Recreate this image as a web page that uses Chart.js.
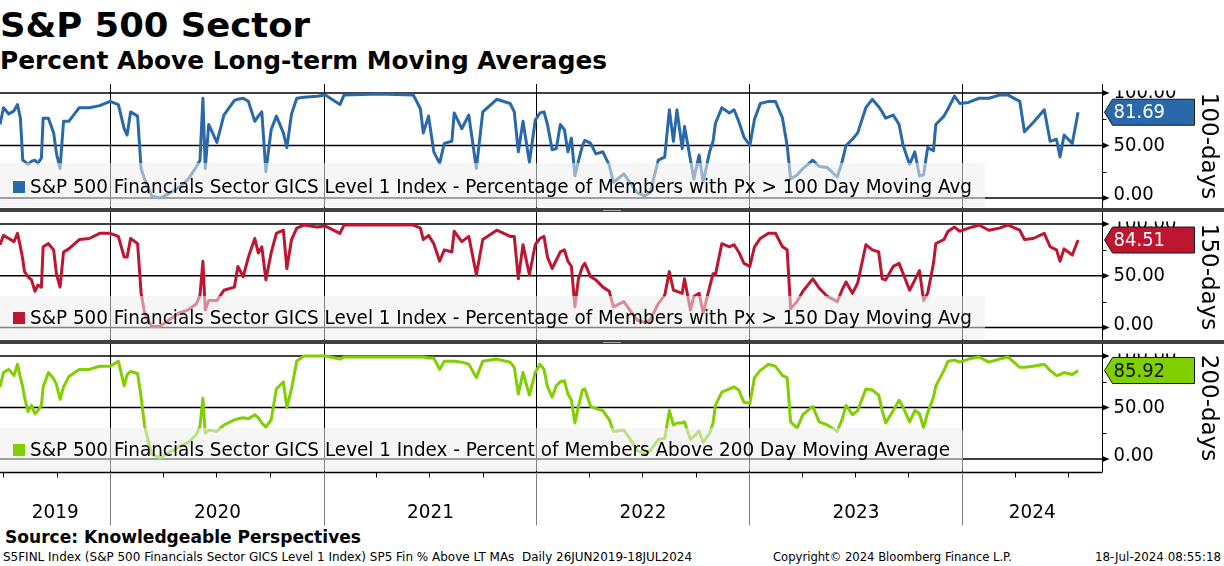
<!DOCTYPE html>
<html>
<head>
<meta charset="utf-8">
<title>S&amp;P 500 Sector</title>
<script src="https://cdn.jsdelivr.net/npm/chart.js@4.4.1/dist/chart.umd.min.js"></script>
<style>
  html, body { margin: 0; padding: 0; background: #fff; }
  #page { position: relative; width: 1224px; height: 566px; overflow: hidden; background: #fff; }
  .txt { position: absolute; left: 0; top: 0; white-space: pre; color: #000;
         font-family: "DejaVu Sans", sans-serif; line-height: 1; transform-origin: 0 0; }
  canvas { position: absolute; left: 0; }
  .sep { position: absolute; left: 0; width: 1224px; height: 4px; background: #404040; }
  .grip { position: absolute; left: 603px; width: 18px; height: 1px; background: #a8a8a8; }
</style>
</head>
<body>
<div id="page">
  <div class="txt" data-x="0" data-base="37" data-size="34" data-w="310" style="font-weight:bold">S&amp;P 500 Sector</div>
  <div class="txt" data-x="0" data-base="69" data-size="24" data-w="607" style="font-weight:bold">Percent Above Long-term Moving Averages</div>
  <canvas id="p1"></canvas>
  <canvas id="p2"></canvas>
  <canvas id="p3"></canvas>
  <div class="sep" style="top:208px"></div>
  <div class="grip" style="top:210px"></div>
  <div class="sep" style="top:340px"></div>
  <div class="grip" style="top:342px"></div>
  <div class="txt" data-x="5" data-base="543" data-size="17" data-w="356" style="font-weight:bold">Source: Knowledgeable Perspectives</div>
  <div class="txt" data-x="3" data-base="561" data-size="12" data-w="689">S5FINL Index (S&amp;P 500 Financials Sector GICS Level 1 Index) SP5 Fin % Above LT MAs  Daily 26JUN2019-18JUL2024</div>
  <div class="txt" data-x="773" data-base="561" data-size="12" data-w="239">Copyright© 2024 Bloomberg Finance L.P.</div>
  <div class="txt" data-x="1095" data-base="561" data-size="12" data-w="126">18-Jul-2024 08:55:18</div>
</div>
<script>
// sample dates
const dates = [
  '2019-06-26','2019-07-02','2019-07-11','2019-07-20','2019-07-26','2019-07-31','2019-08-04','2019-08-07','2019-08-13','2019-08-19',
  '2019-08-25','2019-08-30','2019-09-05','2019-09-08','2019-09-17','2019-09-26','2019-10-01','2019-10-07','2019-10-13','2019-10-22',
  '2019-11-09','2019-11-26','2019-12-14','2020-01-01','2020-01-15','2020-01-25','2020-01-30','2020-02-05','2020-02-17','2020-02-23',
  '2020-02-29','2020-03-12','2020-03-26','2020-04-10','2020-04-28','2020-05-14','2020-05-28','2020-06-03','2020-06-08','2020-06-12',
  '2020-06-18','2020-07-02','2020-07-14','2020-08-01','2020-08-07','2020-08-16','2020-08-25','2020-09-05','2020-09-11','2020-09-17',
  '2020-09-24','2020-10-03','2020-10-12','2020-10-24','2020-10-30','2020-11-07','2020-11-16','2020-11-28','2020-12-21','2021-01-04',
  '2021-01-29','2021-02-05','2021-04-06','2021-06-04','2021-06-16','2021-06-21','2021-06-30','2021-07-09','2021-07-19','2021-07-27',
  '2021-08-09','2021-08-13','2021-08-26','2021-09-07','2021-09-20','2021-10-01','2021-10-25','2021-11-17','2021-11-24','2021-12-01',
  '2021-12-09','2021-12-20','2021-12-30',
  '2022-01-07','2022-01-14','2022-01-20','2022-01-28','2022-02-04','2022-02-11','2022-02-18','2022-02-24','2022-03-02','2022-03-08',
  '2022-03-14','2022-03-21','2022-03-25','2022-04-04','2022-04-13','2022-04-25','2022-05-06','2022-05-13','2022-05-31','2022-06-10',
  '2022-06-23','2022-07-05','2022-07-15','2022-07-29','2022-08-09','2022-08-17','2022-08-24','2022-08-30','2022-09-08','2022-09-12',
  '2022-09-22','2022-09-28','2022-10-07','2022-10-14','2022-10-25','2022-10-31','2022-11-04','2022-11-15','2022-11-28','2022-12-06',
  '2022-12-14','2022-12-23','2023-01-02','2023-01-10','2023-01-20','2023-02-03','2023-02-15','2023-02-27','2023-03-07','2023-03-13',
  '2023-03-24','2023-04-03','2023-04-20','2023-05-01','2023-05-15','2023-06-01','2023-06-09','2023-06-16','2023-06-27','2023-07-06',
  '2023-07-20','2023-07-31','2023-08-11','2023-08-17','2023-08-23','2023-09-05','2023-09-15','2023-09-22','2023-10-03','2023-10-12',
  '2023-10-20','2023-10-27','2023-11-03','2023-11-13','2023-11-17','2023-12-01','2023-12-08','2023-12-19','2023-12-28','2024-01-12',
  '2024-01-30','2024-02-16','2024-03-05','2024-03-20','2024-04-09','2024-04-17','2024-05-02','2024-05-21','2024-05-31','2024-06-11',
  '2024-06-17','2024-06-24','2024-07-08','2024-07-18'
];

// % of members above 100 day MA
const pct100 = [
  70,86,80,83,89,76,36,35,32,35, 36,33,38,76,76,62,42,28,73,73,
  86,86,88,92,89,66,60,82,78,28, 18,2,0,4,10,18,30,36,95,28,
  70,53,79,93,94,95,92,73,78,82, 25,65,78,62,48,80,95,96,97,98,
  89,98,99,98,85,62,78,44,33,52, 54,81,66,79,28,82,94,90,82,44,
  73,34,74,
  81,82,70,46,47,70,65,44,57,21, 35,50,55,52,42,44,31,15,23,15,
  5,2,5,36,39,84,54,84,47,68, 37,18,41,15,44,54,71,86,81,84,
  73,58,50,75,90,92,92,76,50,18, 22,28,36,30,29,20,34,50,56,62,
  86,94,87,82,76,79,70,50,32,44, 21,22,48,45,70,78,85,97,90,91,
  95,95,98,98,92,63,72,84,54,56, 39,60,52,81.69
];

// % of members above 150 day MA
const pct150 = [
  80,89,86,83,91,78,66,54,49,46, 35,41,39,78,81,75,51,39,73,76,
  85,86,91,91,88,68,68,86,81,33, 14,1,1,7,14,17,23,31,64,17,
  26,26,36,39,59,49,68,86,72,78, 46,72,91,94,57,85,96,99,97,98,
  91,99,99,99,96,85,89,81,64,75, 73,93,83,88,51,85,94,88,88,47,
  80,51,80,
  86,88,68,57,65,73,75,64,59,20, 47,59,62,49,46,39,35,20,25,17,
  7,5,7,23,31,54,36,35,33,47, 17,30,33,14,39,52,51,81,78,80,
  73,62,59,78,86,91,91,78,75,18, 25,35,47,38,30,25,36,44,33,43,
  80,75,73,47,46,59,62,52,36,46, 55,26,33,62,81,85,93,97,93,96,
  99,94,96,99,94,85,86,91,78,75, 64,76,70,84.51
];

// % of members above 200 day MA
const pct200 = [
  70,84,87,81,92,79,70,60,46,52, 44,47,52,70,84,78,72,58,70,80,
  87,87,90,90,95,71,82,85,83,60, 32,5,1,6,12,16,24,32,59,25,
  28,27,33,38,39,40,39,43,40,35, 31,38,68,75,50,68,95,100,100,100,
  97,99,99,99,99,99,98,98,87,95, 95,95,94,92,79,95,97,94,89,63,
  84,62,84,
  92,87,70,60,71,75,76,63,57,35, 51,67,68,51,49,47,38,27,28,20,
  8,6,8,19,20,47,33,35,35,36, 19,22,27,16,25,35,52,65,68,70,
  67,55,54,79,86,92,90,81,79,36, 30,43,51,36,33,27,38,52,43,47,
  68,67,62,47,35,47,57,50,36,47, 44,30,45,60,71,86,95,96,94,97,
  99,94,97,99,89,89,90,92,86,81, 82,84,82,85.92
];

const yTicks = [0, 50, 100];
const yMinor = [25, 75];
const yTickLabels = ['0.00', '50.00', '100.00'];
const yearStarts = ['2020-01-01','2021-01-01','2022-01-01','2023-01-01','2024-01-01'];
const yearLabels = ['2019','2020','2021','2022','2023','2024'];
const quarterStarts = [
  '2019-07-01','2019-10-01','2020-04-01','2020-07-01','2020-10-01','2021-04-01','2021-07-01','2021-10-01',
  '2022-04-01','2022-07-01','2022-10-01','2023-04-01','2023-07-01','2023-10-01','2024-04-01','2024-07-01'
];
const legendNames = [
  'S&P 500 Financials Sector GICS Level 1 Index - Percentage of Members with Px > 100 Day Moving Avg',
  'S&P 500 Financials Sector GICS Level 1 Index - Percentage of Members with Px > 150 Day Moving Avg',
  'S&P 500 Financials Sector GICS Level 1 Index - Percent of Members Above 200 Day Moving Average'
];
const sideNames = ['100-days', '150-days', '200-days'];

const FONT = '"DejaVu Sans", sans-serif';
const xMin = Date.parse('2019-06-26');
const xMax = Date.parse('2024-08-28');

// html text: place by baseline and squeeze to the measured width
const mctx = document.createElement('canvas').getContext('2d');
document.querySelectorAll('.txt').forEach(el => {
  const size = +el.dataset.size;
  const weight = el.style.fontWeight || 'normal';
  el.style.fontSize = size + 'px';
  mctx.font = weight + ' ' + size + 'px ' + FONT;
  const w = mctx.measureText(el.textContent).width;
  const k = (+el.dataset.w) / w;
  el.style.left = el.dataset.x + 'px';
  el.style.top = (+el.dataset.base - 0.846 * size) + 'px';
  el.style.transform = 'scaleX(' + k.toFixed(4) + ')';
});

function squeezeText(ctx, text, x, y, width, sx) {
  const w = ctx.measureText(text).width;
  const k = width ? width / w : (sx || 1);
  ctx.save();
  ctx.translate(x, y);
  ctx.scale(k, 1);
  ctx.fillText(text, 0, 0);
  ctx.restore();
}

const panelPlugin = {
  id: 'panel',
  beforeDatasetsDraw(chart, args, o) {
    const ctx = chart.ctx, a = chart.chartArea, x = chart.scales.x, y = chart.scales.y;
    ctx.save();
    ctx.strokeStyle = '#000';
    ctx.lineWidth = 1;
    yearStarts.forEach(d => {
      const px = Math.round(x.getPixelForValue(Date.parse(d))) + 0.5;
      ctx.beginPath(); ctx.moveTo(px, a.top); ctx.lineTo(px, a.bottom); ctx.stroke();
    });
    ctx.lineWidth = 1.5;
    yTicks.forEach(v => {
      const py = y.getPixelForValue(v);
      ctx.beginPath(); ctx.moveTo(a.left, py); ctx.lineTo(a.right, py); ctx.stroke();
    });
    ctx.restore();
  },
  afterDatasetsDraw(chart, args, o) {
    const ctx = chart.ctx, a = chart.chartArea, x = chart.scales.x, y = chart.scales.y;
    const top = o.top;
    ctx.save();

    // legend box over the lines
    const bt = o.boxTop - top;
    ctx.fillStyle = 'rgba(238,238,238,0.55)';
    ctx.beginPath();
    ctx.moveTo(0, bt);
    ctx.lineTo(o.boxRight - 4, bt);
    ctx.quadraticCurveTo(o.boxRight, bt, o.boxRight, bt + 4);
    ctx.lineTo(o.boxRight, a.bottom - 1);
    ctx.lineTo(0, a.bottom - 1);
    ctx.closePath();
    ctx.fill();
    const ty = o.textY - top;
    ctx.fillStyle = o.color;
    ctx.fillRect(13, ty - 6, 12, 12);
    ctx.fillStyle = '#000';
    ctx.font = '19px ' + FONT;
    ctx.textBaseline = 'middle';
    ctx.textAlign = 'left';
    squeezeText(ctx, o.name, 30, ty + 1, o.textW);

    // right axis
    const ax = Math.round(a.right) + 0.5;
    ctx.strokeStyle = '#000';
    ctx.lineWidth = 1;
    ctx.beginPath(); ctx.moveTo(ax, a.top); ctx.lineTo(ax, a.bottom); ctx.stroke();
    yMinor.forEach(v => {
      const py = Math.round(y.getPixelForValue(v)) + 0.5;
      ctx.beginPath(); ctx.moveTo(ax, py); ctx.lineTo(ax + 4, py); ctx.stroke();
    });
    ctx.fillStyle = '#000';
    yTicks.forEach(v => {
      const py = y.getPixelForValue(v);
      ctx.beginPath(); ctx.moveTo(ax, py - 3); ctx.lineTo(ax + 7, py); ctx.lineTo(ax, py + 3); ctx.closePath(); ctx.fill();
    });
    ctx.save();
    ctx.beginPath();
    ctx.rect(ax + 2, y.getPixelForValue(100) - 2.5, 100, a.bottom);
    ctx.clip();
    ctx.font = '20px ' + FONT;
    ctx.textBaseline = 'middle';
    yTicks.forEach((v, i) => {
      const py = y.getPixelForValue(v) + (v === 0 ? -3 : 0);
      squeezeText(ctx, yTickLabels[i], ax + 11, py, 0, 0.9);
    });
    ctx.restore();

    // last value tag
    const vy = y.getPixelForValue(o.last);
    ctx.beginPath();
    ctx.moveTo(ax + 2, vy);
    ctx.lineTo(ax + 10, vy - 13);
    ctx.lineTo(ax + 92, vy - 13);
    ctx.lineTo(ax + 92, vy + 13);
    ctx.lineTo(ax + 10, vy + 13);
    ctx.closePath();
    ctx.fillStyle = o.color;
    ctx.fill();
    ctx.strokeStyle = '#1a1a1a';
    ctx.stroke();
    ctx.fillStyle = o.tagText;
    ctx.font = '20px ' + FONT;
    ctx.textBaseline = 'middle';
    squeezeText(ctx, o.last.toFixed(2), ax + 11, vy + 1, 0, 0.9);

    // side title
    ctx.save();
    ctx.translate(1208, o.sideY - top);
    ctx.rotate(Math.PI / 2);
    ctx.fillStyle = '#000';
    ctx.font = '23px ' + FONT;
    ctx.textAlign = 'center';
    ctx.textBaseline = 'middle';
    ctx.fillText(o.side, 0, 0);
    ctx.restore();

    // date axis under the last panel
    if (o.dateAxis) {
      const b = Math.round(a.bottom) + 0.5;
      ctx.strokeStyle = '#000';
      ctx.lineWidth = 1.5;
      ctx.beginPath(); ctx.moveTo(0, b); ctx.lineTo(ax, b); ctx.stroke();
      ctx.lineWidth = 1;
      quarterStarts.forEach(d => {
        const px = Math.round(x.getPixelForValue(Date.parse(d))) + 0.5;
        ctx.beginPath(); ctx.moveTo(px, b); ctx.lineTo(px, b + 5); ctx.stroke();
      });
      ctx.strokeStyle = '#808080';
      const edges = [a.left];
      yearStarts.forEach(d => {
        const px = Math.round(x.getPixelForValue(Date.parse(d))) + 0.5;
        edges.push(px);
        ctx.beginPath(); ctx.moveTo(px, b); ctx.lineTo(px, b + 53); ctx.stroke();
      });
      edges.push(a.right);
      ctx.fillStyle = '#000';
      ctx.font = '20px ' + FONT;
      ctx.textAlign = 'center';
      ctx.textBaseline = 'alphabetic';
      yearLabels.forEach((t, i) => {
        const cx = (edges[i] + edges[i + 1]) / 2;
        ctx.save();
        ctx.translate(cx, 518 - top);
        ctx.scale(0.92, 1);
        ctx.fillText(t, 0, 0);
        ctx.restore();
      });
    }
    ctx.restore();
  }
};

function makePanel(id, top, height, padBottom, yMin, yMax, values, color, extra) {
  const cv = document.getElementById(id);
  cv.width = 1224;
  cv.height = height;
  cv.style.top = top + 'px';
  const pts = dates.map((d, i) => ({ x: Date.parse(d), y: values[i] }));
  return new Chart(cv.getContext('2d'), {
    type: 'line',
    data: { datasets: [{ data: pts, borderColor: color, borderWidth: 3, pointRadius: 0, tension: 0, fill: false, borderJoinStyle: 'round' }] },
    options: {
      responsive: false,
      animation: false,
      devicePixelRatio: 1,
      layout: { padding: { left: 0, right: 122, top: 0, bottom: padBottom } },
      scales: {
        x: { type: 'linear', min: xMin, max: xMax, display: false },
        y: { min: yMin, max: yMax, display: false }
      },
      plugins: {
        legend: { display: false },
        tooltip: { enabled: false },
        panel: Object.assign({ top: top, color: color, last: values[values.length - 1] }, extra)
      }
    },
    plugins: [panelPlugin]
  });
}

makePanel('p1', 84, 124, 0, -9.52, 108.57, pct100, '#2a69a9',
  { name: legendNames[0], side: sideNames[0], boxTop: 163, boxRight: 985, textY: 187, textW: 942, sideY: 146, tagText: '#fff' });
makePanel('p2', 212, 128, 0, -12.08, 111.59, pct150, '#be1630',
  { name: legendNames[1], side: sideNames[1], boxTop: 296, boxRight: 985, textY: 318, textW: 942, sideY: 277, tagText: '#fff' });
makePanel('p3', 344, 182, 54, -12.62, 111.65, pct200, '#80cf00',
  { name: legendNames[2], side: sideNames[2], boxTop: 428, boxRight: 963, textY: 450, textW: 920, sideY: 408, tagText: '#111', dateAxis: true });
</script>
</body>
</html>
